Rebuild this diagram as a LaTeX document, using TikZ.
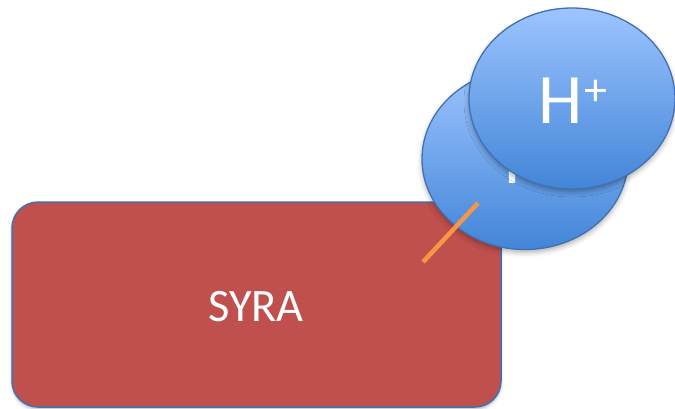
\documentclass[tikz,border=0pt]{standalone}
\usepackage{fontspec}
\setmainfont{Carlito}
\usetikzlibrary{shapes.geometric,shadows.blur}
\definecolor{syrared}{RGB}{192,80,77}
\definecolor{edgeblue}{RGB}{65,113,177}
\definecolor{ballTop}{RGB}{157,196,255}
\definecolor{ballBot}{RGB}{66,133,215}
\definecolor{linkorange}{RGB}{247,150,70}
\tikzset{
  acidbox/.style={draw=edgeblue, line width=1.5pt, fill=syrared, rounded corners=26pt,
    blur shadow={shadow xshift=0pt, shadow yshift=-2pt, shadow blur radius=3pt, shadow opacity=30}},
  ion/.style={ellipse, draw=edgeblue, line width=1.3pt, minimum width=206pt, minimum height=181pt,
    inner sep=0pt, top color=ballTop, bottom color=ballBot,
    blur shadow={shadow xshift=0pt, shadow yshift=-3pt, shadow blur radius=5pt, shadow opacity=32}},
  iontext/.style={text=white, inner sep=0pt, anchor=base west},
  link/.style={draw=linkorange, line width=4.5pt}
}
\newcommand{\hplus}{{\fontsize{71}{71}\selectfont H}\kern2pt\raisebox{18pt}{\fontsize{46}{46}\selectfont +}}
\begin{document}
\begin{tikzpicture}[x=1pt,y=-1pt]
\useasboundingbox (0,0) rectangle (675,408);
% acid box
\path[acidbox] (12,202) rectangle (501,407);
\node[text=white, inner sep=0pt, font=\fontsize{46.5}{46.5}\selectfont] (syra) at (256,307) {SYRA};
% back ion
\node[ion] (ionback) at (525,159) {};
\node[iontext] (ionbacktext) at (504,183) {\hplus};
% link
\coordinate (linkA) at (423,262);
\coordinate (linkB) at (478,203);
\draw[link] (linkA) -- (linkB);
% front ion
\node[ion] (ionfront) at (572,98.5) {};
\node[iontext] (ionfronttext) at (538,123) {\hplus};
\end{tikzpicture}
\end{document}
